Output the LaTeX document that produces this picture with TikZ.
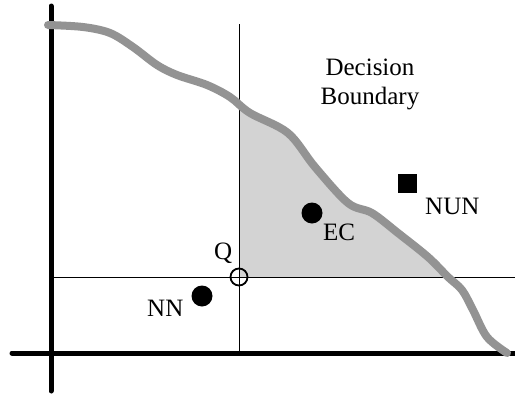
\documentclass[tikz,border=0pt]{standalone}
\usepackage{fontspec}
\setmainfont{Liberation Serif}
\usepackage{tikz}
\definecolor{boundgray}{RGB}{147,147,147}
\definecolor{regiongray}{RGB}{211,211,211}
\newcommand{\decisioncurve}{plot[smooth, tension=0.55] coordinates {(48,25) (83,27) (110,33) (133,47) (157,65) (177,75) (207,85) (230,97) (250,113) (288,133) (315,167) (348,203) (372,213) (398,233) (428,257) (448,277) (462,290) (473,310) (487,337) (507,353)}}

\begin{document}
\begin{tikzpicture}[x=1pt, y=-1pt,
    datum/.style={circle, fill=black, inner sep=0pt, minimum size=21pt},
    hollow/.style={circle, draw=black, line width=1.8pt, inner sep=0pt, minimum size=17pt},
    sqdatum/.style={rectangle, fill=black, inner sep=0pt, minimum size=19pt},
    lbl/.style={inner sep=0pt, anchor=base west, font=\fontsize{25}{29}\selectfont}]
    \useasboundingbox (0,0) rectangle (515,394);
    % region on the far side of the boundary
    \begin{scope}
        \clip (239,20) rectangle (515,277);
        \fill[regiongray] \decisioncurve -- (515,394) -- (0,394) -- cycle;
    \end{scope}
    % thin lines through Q
    \draw[line width=1pt] (239,24) -- (239,353);
    \draw[line width=1pt] (51,277) -- (515,277);
    % axes
    \draw[line width=5pt, line cap=round] (51,6) -- (51,391);
    \draw[line width=5pt, line cap=round] (12,353) -- (518,353);
    % boundary
    \draw[boundgray, line width=8pt, line cap=round] \decisioncurve;
    % points
    \node[hollow] (q) at (239,277) {};
    \node[datum] (nn) at (202,296) {};
    \node[datum] (ec) at (312,213) {};
    \node[sqdatum] (nun) at (407,183) {};
    \node[lbl] (qlbl) at (214,259.5) {Q};
    \node[lbl] (nnlbl) at (147,316) {NN};
    \node[lbl] (eclbl) at (323,240) {EC};
    \node[lbl] (nunlbl) at (425,214) {NUN};
    \node[inner sep=0pt, align=center, font=\fontsize{25}{29}\selectfont] (dblbl) at (370,84.7) {Decision\\Boundary};
\end{tikzpicture}
\end{document}
